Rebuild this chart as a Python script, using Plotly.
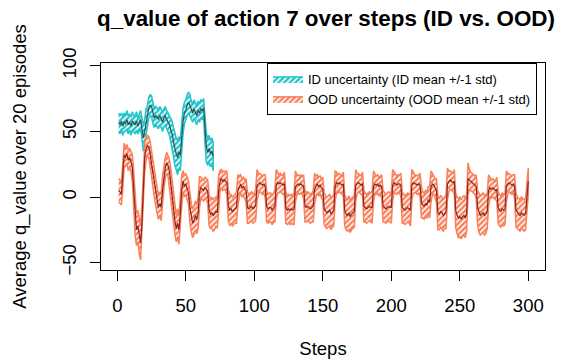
import plotly.graph_objects as go

# ---------------- data ----------------
ood_mean = [
    5, 4, 2, 18,                          # 1-4
    32, 30, 33, 28, 30, 27, 22,           # 5-11
    5, -15, -25, -22, -30, -35, -20,      # 12-18
    10, 30, 37, 39, 38, 33,               # 19-24
    25, 18, 10, 3, -3, -8, -5, -8,        # 25-32
    5, 15, 22, 26, 24, 20,                # 33-38
    12, 2, -8, -18, -24, -20, -25, -12,   # 39-46
    5, 12, 8, 10, 6, 3,                   # 47-52
    -8, -16, -20, -18, -14, -17, -12,     # 53-59
    4, 7, 6, 5, 7, 6, 4,                  # 60-66
    -10, -13, -12, -14, -13, -11, -12,    # 67-73
    5, 12, 14, 12, 13, 12, 11,            # 74-80
    -6, -10, -9, -11, -10, -9, -8,        # 81-87
    5, 8, 10, 7, 8, 6, 5,                 # 88-94
    -8, -9, -8, -7, -9, -8, -6,           # 95-101
    9, 10, 11, 10, 9, 10, 8,              # 102-108
    -7, -9, -8, -8, -10, -8, -7,          # 109-115
    9, 11, 10, 11, 10, 9, 10,             # 116-122
    -8, -10, -9, -10, -9, -10, -9,        # 123-129
    8, 9, 10, 9, 10, 9, 8,                # 130-136
    -7, -8, -7, -8, -9, -8, -7,           # 137-143
    6, 8, 10, 8, 9, 7, 6,                 # 144-150
    -9, -11, -12, -11, -10, -13, -11, -10,  # 151-158
    8, 11, 10, 11, 10, 9, 10,             # 159-165
    -10, -13, -14, -12, -15, -13, -12, -11,  # 166-173
    9, 10, 11, 10, 9, 10,                 # 174-179
    -7, -8, -9, -8, -7, -8, -8,           # 180-186
    8, 10, 9, 10, 8, 9, 8,                # 187-193
    -7, -8, -9, -8, -7, -8, -8,           # 194-200
    9, 11, 10, 9, 10, 10, 9,              # 201-207
    -8, -9, -10, -9, -8, -9, -10,         # 208-214
    9, 11, 10, 10, 9, 10, 9,              # 215-221
    -4, -6, -7, -5, -6, -2, -4,           # 222-228
    8, 10, 9, 7, 5,                       # 229-233
    -12, -13, -11, -12, -14, -12, -11,    # 234-240
    10, 12, 13, 12, 11, 12,               # 241-246
    -10, -14, -16, -15, -17, -15, -14, -16, -12,  # 247-255
    14, 13, 12, 11, 10, 9, 8,             # 256-262
    -8, -12, -14, -13, -12, -14, -13, -11,  # 263-270
    5, 7, 6, 7, 6, 5, 6,                  # 271-277
    -8, -10, -11, -9, -10, -9,            # 278-283
    8, 10, 11, 10, 9, 10, 8,              # 284-290
    -10, -12, -13, -14, -12, -13, -14, -13,  # 291-298
    2, 12,                                # 299-300
]

ood_sd = [
    9, 9, 8, 12,
    9, 7, 7, 8, 7, 8, 10,
    14, 14, 12, 12, 13, 13, 14,
    14, 11, 9, 8, 8, 9,
    10, 10, 10, 10, 9, 9, 9, 10,
    11, 9, 8, 8, 8, 9,
    10, 11, 11, 10, 10, 11, 11, 12,
    12, 8, 8, 8, 8, 9,
    12, 11, 11, 11, 11, 11, 12,
    12, 8, 8, 8, 8, 8, 9,
    12, 11, 12, 12, 12, 11, 12,
    12, 8, 7, 7, 7, 7, 9,
    12, 12, 11, 11, 11, 11, 12,
    12, 8, 7, 7, 7, 7, 9,
    12, 11, 11, 11, 11, 11, 12,
    12, 8, 7, 7, 7, 7, 9,
    12, 11, 11, 11, 11, 11, 12,
    12, 8, 7, 7, 7, 7, 9,
    12, 11, 11, 11, 11, 11, 12,
    12, 8, 7, 7, 7, 7, 9,
    12, 11, 11, 11, 11, 11, 12,
    12, 8, 7, 7, 7, 7, 9,
    12, 12, 12, 12, 12, 12, 12, 12,
    12, 8, 7, 7, 7, 7, 9,
    12, 12, 12, 13, 12, 12, 12, 12,
    12, 8, 7, 7, 7, 9,
    12, 11, 11, 11, 11, 11, 12,
    12, 8, 7, 7, 7, 7, 9,
    12, 11, 11, 11, 11, 11, 12,
    12, 8, 7, 7, 7, 7, 9,
    12, 11, 11, 11, 11, 11, 12,
    12, 8, 7, 7, 7, 7, 9,
    12, 10, 10, 10, 10, 10, 12,
    12, 8, 7, 7, 9,
    13, 12, 12, 12, 12, 12, 13,
    12, 8, 7, 7, 7, 9,
    13, 14, 15, 15, 15, 15, 15, 15, 14,
    12, 8, 7, 7, 7, 7, 9,
    13, 15, 15, 15, 15, 15, 15, 13,
    12, 8, 7, 7, 7, 7, 9,
    12, 12, 12, 12, 12, 12,
    12, 8, 7, 7, 7, 7, 9,
    13, 12, 12, 12, 12, 12, 12, 12,
    12, 10,
]

id_mean = [
    57, 55, 58, 54, 57, 56, 59, 55, 57, 54,
    58, 56, 55, 58, 54, 57, 59, 52, 45, 50,
    58, 62, 68, 70, 69, 64, 60, 62, 61, 59,
    62, 60, 57, 60, 62, 59, 57, 55, 51, 48,
    42, 36, 33, 30, 34, 32, 48, 58, 64, 66,
    70, 72, 70, 66, 64, 67, 65, 62, 66, 64,
    67, 66, 68, 50, 38, 34, 37, 33, 35, 31,
]
id_sd = [
    7, 7, 6, 7, 7, 6, 7, 7, 6, 7,
    7, 6, 7, 7, 6, 7, 7, 8, 10, 9,
    9, 8, 8, 8, 8, 8, 7, 7, 7, 7,
    7, 7, 7, 7, 7, 7, 7, 8, 9, 10,
    11, 12, 12, 13, 12, 12, 12, 10, 8, 8,
    8, 8, 8, 7, 7, 7, 7, 7, 7, 7,
    7, 7, 7, 10, 11, 10, 10, 10, 10, 11,
]

x_ticks = [0, 50, 100, 150, 200, 250, 300]
y_ticks = [-50, 0, 50, 100]

title_text = "q_value of action 7 over steps (ID vs. OOD)"
x_title = "Steps"
y_title = "Average q_value over 20 episodes"
id_label = "ID uncertainty (ID mean +/-1 std)"
ood_label = "OOD uncertainty (OOD mean +/-1 std)"

# ---------------- styles ----------------
ID_FILL = "#22C4CC"
ID_LINE = "#2F4F4F"
OOD_FILL = "#FA8059"
OOD_LINE = "#8B2323"
FONT = "Liberation Sans, Arial, Helvetica, sans-serif"
LABEL_SIZE = 18.5


def band_trace(mean, sd, color, name):
    steps = list(range(1, len(mean) + 1))
    upper = [m + s for m, s in zip(mean, sd)]
    lower = [m - s for m, s in zip(mean, sd)]
    return go.Scatter(
        x=steps + steps[::-1],
        y=upper + lower[::-1],
        mode="lines",
        fill="toself",
        fillcolor=color,
        line=dict(color=color, width=1.5),
        fillpattern=dict(shape="/", bgcolor=color, fgcolor="white",
                         size=4, solidity=0.4, fillmode="replace"),
        name=name,
        hoverinfo="skip",
    )


def mean_trace(mean, color):
    steps = list(range(1, len(mean) + 1))
    return go.Scatter(x=steps, y=mean, mode="lines",
                      line=dict(color=color, width=1.2),
                      showlegend=False, hoverinfo="skip")


fig = go.Figure()
fig.add_trace(band_trace(id_mean, id_sd, ID_FILL, id_label))
fig.add_trace(mean_trace(id_mean, ID_LINE))
fig.add_trace(band_trace(ood_mean, ood_sd, OOD_FILL, ood_label))
fig.add_trace(mean_trace(ood_mean, OOD_LINE))

axis_common = dict(
    showline=True, mirror=True, linecolor="black", linewidth=1,
    ticks="outside", ticklen=10, tickcolor="black", tickwidth=1,
    showgrid=False, zeroline=False, automargin=False,
    tickfont=dict(size=LABEL_SIZE, family=FONT, color="black"),
)

fig.update_layout(
    width=564, height=364,
    margin=dict(l=101, r=19, t=63, b=94),
    paper_bgcolor="white", plot_bgcolor="white",
    font=dict(family=FONT, size=LABEL_SIZE, color="black"),
    title=dict(text="<b>" + title_text + "</b>", x=0.5 + 3 / 444, xref="paper",
               xanchor="center", y=1 - 18 / 364, yref="container",
               yanchor="middle", font=dict(size=22.4, family=FONT)),
    legend=dict(x=(267 - 101) / 444, y=1, xanchor="left", yanchor="top",
                bordercolor="black", borderwidth=1, bgcolor="white",
                font=dict(size=13, family=FONT), itemwidth=30,
                tracegroupgap=0),
    xaxis=dict(range=[-11.9, 312.2], tickvals=x_ticks,
               title=dict(text=x_title, standoff=26,
                          font=dict(size=LABEL_SIZE, family=FONT)),
               ticklabelstandoff=9, **axis_common),
    yaxis=dict(range=[-55.6, 102.1], tickvals=y_ticks, tickangle=-90,
               title=dict(text=y_title, standoff=27,
                          font=dict(size=LABEL_SIZE, family=FONT)),
               ticklabelstandoff=7, **axis_common),
)

fig.write_html("out.html")
